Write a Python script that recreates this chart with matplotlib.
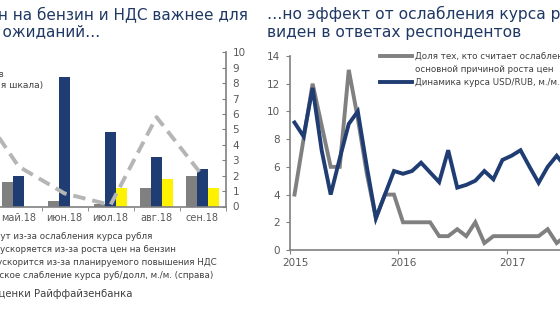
import numpy as np
import matplotlib
matplotlib.use("Agg")
import matplotlib.pyplot as plt
import matplotlib.transforms as mtransforms

# === data: left chart (monthly survey, 2018) ===
months_18 = ["апр.18", "май.18", "июн.18", "июл.18", "авг.18", "сен.18"]
rub_weak = [np.nan, 1.6, 0.35, 0.15, 1.2, 2.0]      # grey bars
fuel = [np.nan, 2.0, 8.4, 4.8, 3.2, 2.4]            # navy bars
vat = [np.nan, np.nan, np.nan, 1.2, 1.8, 1.2]       # yellow bars
usd_rub_mm = [7.0, 2.6, 0.85, 0.1, 5.8, 2.0]        # dashed line (right scale)

# === data: right chart (monthly, from Jan 2015) ===
share_weak = [4.0, 8.0, 12.0, 9.0, 6.0, 6.0, 13.0, 9.5, 5.5, 2.3,
              4.0, 4.0, 2.0, 2.0, 2.0, 2.0, 1.0, 1.0, 1.5, 1.0,
              2.0, 0.5, 1.0, 1.0, 1.0, 1.0, 1.0, 1.0, 1.5, 0.5, 1.0]
usd_dyn = [9.2, 8.2, 11.7, 7.2, 4.0, 6.6, 9.1, 10.0, 6.0, 2.3,
           4.0, 5.7, 5.5, 5.7, 6.3, 5.6, 4.9, 7.2, 4.5, 4.7,
           5.0, 5.7, 5.1, 6.5, 6.8, 7.2, 6.0, 4.85, 6.0, 6.8, 6.0]
years = ["2015", "2016", "2017", "2018"]

NAVY = "#1f3d73"
GREY = "#808080"
YELLOW = "#fff200"
DASH = "#b5b5b5"
TXT = "#595959"
TITLE = "#1f3864"

W, H = 560, 315
fig = plt.figure(figsize=(5.6, 3.15), dpi=100)
fig.patch.set_facecolor("white")

def fx(px):
    return px / W

def fy(py):
    return 1 - py / H

# --- left chart ---
cat_w = 46.0
right_px = 225.5
n = len(months_18)
ax1 = fig.add_axes([fx(right_px - n * cat_w), fy(206.5), fx(n * cat_w), 154.2 / H])
x = np.arange(n)
bw = 0.232
ax1.bar(x - bw, rub_weak, bw, color=GREY, zorder=2)
ax1.bar(x, fuel, bw, color=NAVY, zorder=2)
ax1.bar(x + bw, vat, bw, color=YELLOW, zorder=2)
ax1.set_xlim(-0.5, n - 0.5)
ax1.set_ylim(0, 10)
for s in ["left", "top", "right"]:
    ax1.spines[s].set_visible(False)
ax1.spines["bottom"].set_color(GREY)
ax1.spines["bottom"].set_linewidth(1.2)
ax1.set_yticks([])
ax1.set_xticks(x)
ax1.set_xticklabels(months_18, fontsize=7, color=TXT)
ax1.set_xticks(np.arange(n + 1) - 0.5, minor=True)
ax1.tick_params(axis="x", which="major", length=0, pad=5)
ax1.tick_params(axis="x", which="minor", length=3, direction="out", color=GREY)

ax2 = ax1.twinx()
ax2.plot(x, usd_rub_mm, color=DASH, lw=2.8, ls=(0, (3.2, 1.8)), zorder=3, clip_on=False)
ax2.set_ylim(0, 10)
ax2.set_yticks(range(0, 11))
for s in ["left", "top", "bottom"]:
    ax2.spines[s].set_visible(False)
ax2.spines["right"].set_color(GREY)
ax2.spines["right"].set_linewidth(1.2)
ax2.tick_params(axis="y", direction="in", length=3, color=GREY, labelsize=7.5,
                labelcolor=TXT, pad=5)

# titles / notes of the left panel (cut off at the left edge)
fig.text(fx(248), fy(14), "Рост цен на бензин и НДС важнее для", ha="right",
         va="center", fontsize=11, color=TITLE)
fig.text(fx(100), fy(32), "инфляционных ожиданий…", ha="right", va="center",
         fontsize=11, color=TITLE)
fig.text(fx(4), fy(74), "Доля респондентов", ha="right", va="center",
         fontsize=6.5, color="#404040")
fig.text(fx(43), fy(86), "(левая шкала)", ha="right", va="center",
         fontsize=6.5, color="#404040")

notes = [("Цены растут из-за ослабления курса рубля", 152, 236.7),
         ("Инфляция ускоряется из-за роста цен на бензин", 176, 249.3),
         ("Инфляция ускорится из-за планируемого повышения НДС", 217, 262.5),
         ("Фактическое слабление курса руб/долл, м./м. (справа)", 213, 275.5)]
for t, xr, yc in notes:
    fig.text(fx(xr), fy(yc), t, ha="right", va="center", fontsize=6.3, color="#404040")
fig.text(fx(133), fy(294), "Источник: ЦБ РФ, оценки Райффайзенбанка", ha="right",
         va="center", fontsize=7.3, color="#404040")

# --- right chart ---
px_month = 9.04
ax3 = fig.add_axes([fx(290), fy(250), fx(36 * px_month), 194 / H])
t = np.arange(len(usd_dyn)) + 0.5
ax3.plot(t, share_weak, color=GREY, lw=2.8, solid_joinstyle="miter",
         label="Доля тех, кто считает ослабление рубля")
ax3.plot([], [], color="none", label="основной причиной роста цен")
ax3.plot(t, usd_dyn, color=NAVY, lw=2.8, solid_joinstyle="miter",
         label="Динамика курса USD/RUB, м./м., %")
ax3.set_xlim(0, 36)
ax3.set_ylim(0, 14)
ax3.set_yticks(range(0, 15, 2))
ax3.set_xticks([0, 12, 24, 36])
ax3.set_xticklabels(years)
for s in ["top", "right"]:
    ax3.spines[s].set_visible(False)
for s in ["left", "bottom"]:
    ax3.spines[s].set_color(GREY)
    ax3.spines[s].set_linewidth(1.2)
ax3.tick_params(direction="out", length=3, color=GREY, labelsize=7.5, labelcolor=TXT)
ax3.tick_params(axis="y", pad=4)
ax3.tick_params(axis="x", pad=3)
shift = mtransforms.ScaledTranslation(5 / 100, 0, fig.dpi_scale_trans)
for lab in ax3.get_xticklabels():
    lab.set_transform(lab.get_transform() + shift)

leg = ax3.legend(loc="upper left", bbox_to_anchor=(fx(380), fy(52)),
                 bbox_transform=fig.transFigure, frameon=False, fontsize=6.3,
                 handlelength=3.7, handletextpad=0.25, labelspacing=0.45,
                 borderpad=0, borderaxespad=0)
for txt in leg.get_texts():
    txt.set_color("#404040")

fig.text(fx(267), fy(14), "…но эффект от ослабления курса рубля не", ha="left",
         va="center", fontsize=11.2, color=TITLE)
fig.text(fx(267), fy(32), "виден в ответах респондентов", ha="left",
         va="center", fontsize=11.2, color=TITLE)

fig.savefig("out.png", dpi=100, facecolor="white")
